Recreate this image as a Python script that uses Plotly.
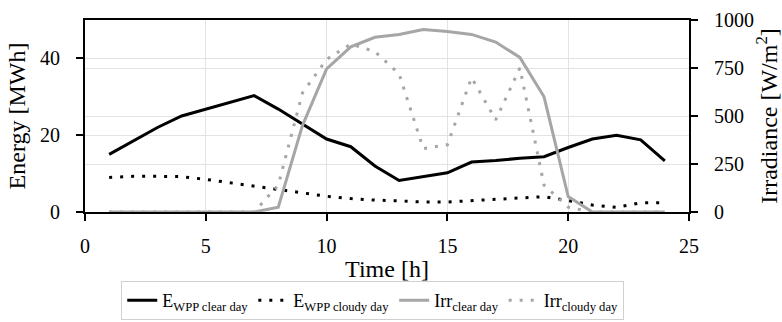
import plotly.graph_objects as go

hours = list(range(1, 25))

# Wind power plant energy output [MWh]
e_wpp_clear = [15, 18.5, 22, 25, 26.8, 28.6, 30.3, 26.8, 22.8, 19, 17, 12,
               8.2, 9.2, 10.2, 13, 13.4, 14, 14.4, 16.8, 19, 20, 18.8, 13.3]
e_wpp_cloudy = [9, 9.3, 9.3, 9.2, 8.5, 7.6, 6.7, 5.8, 4.9, 4.1, 3.5, 3.1,
                2.9, 2.6, 2.6, 2.9, 3.2, 3.6, 4.0, 3.0, 1.8, 1.2, 2.4, 2.4]

# Solar irradiance [W/m2]
irr_clear = [0, 0, 0, 0, 0, 0, 0, 25, 450, 745, 860, 910,
             925, 950, 940, 925, 885, 805, 600, 80, 0, 0, 0, 0]
irr_cloudy = [0, 0, 0, 0, 0, 0, 0, 140, 620, 795, 875, 835,
              720, 330, 350, 700, 480, 750, 140, 25, 0, 0, 0, 0]

x_ticks = [0, 5, 10, 15, 20, 25]
energy_ticks = [0, 20, 40]
irr_ticks = [0, 250, 500, 750, 1000]

FONT = "Liberation Serif, Times New Roman, serif"
GREY = "#a6a6a6"

fig = go.Figure()
fig.add_trace(go.Scatter(x=hours, y=e_wpp_clear, mode="lines",
                         name="E<sub>WPP clear day</sub>",
                         line=dict(color="black", width=3)))
fig.add_trace(go.Scatter(x=hours, y=e_wpp_cloudy, mode="lines",
                         name="E<sub>WPP cloudy day</sub>",
                         line=dict(color="black", width=3, dash="3px,8px")))
fig.add_trace(go.Scatter(x=hours, y=irr_clear, mode="lines", yaxis="y2",
                         name="Irr<sub>clear day</sub>",
                         line=dict(color=GREY, width=3)))
fig.add_trace(go.Scatter(x=hours, y=irr_cloudy, mode="lines", yaxis="y2",
                         name="Irr<sub>cloudy day</sub>",
                         line=dict(color=GREY, width=3, dash="3px,8px")))

grid = "#e3e3e3"
axis_common = dict(showgrid=True, gridcolor=grid, gridwidth=1, showline=True,
                   linecolor="black", linewidth=2, ticks="outside", ticklen=7,
                   tickwidth=2, tickcolor="black", zeroline=False,
                   automargin=False)

fig.update_layout(
    width=782, height=322,
    margin=dict(l=85, r=93, t=20, b=110, autoexpand=False),
    paper_bgcolor="white", plot_bgcolor="white",
    font=dict(family=FONT, size=20, color="black"),
    showlegend=True,
    legend=dict(orientation="h", x=0.06, xanchor="left", y=-0.36, yanchor="top",
                bordercolor="#d0d0d0", borderwidth=1, font=dict(size=18),
                itemwidth=30, tracegroupgap=0),
    xaxis=dict(range=[0, 25], tickvals=x_ticks, mirror=True,
               ticklabelstandoff=8,
               title=dict(text="Time [h]", standoff=4), **axis_common),
    yaxis=dict(range=[0, 50], tickvals=energy_ticks, ticklabelstandoff=12,
               title=dict(text="Energy [MWh]", standoff=8), **axis_common),
    yaxis2=dict(range=[0, 1000], tickvals=irr_ticks, overlaying="y",
                side="right", ticklabelstandoff=12,
                title=dict(text="Irradiance [W/m<sup>2</sup>]", standoff=8),
                **axis_common),
)

fig.write_html("out.html")
